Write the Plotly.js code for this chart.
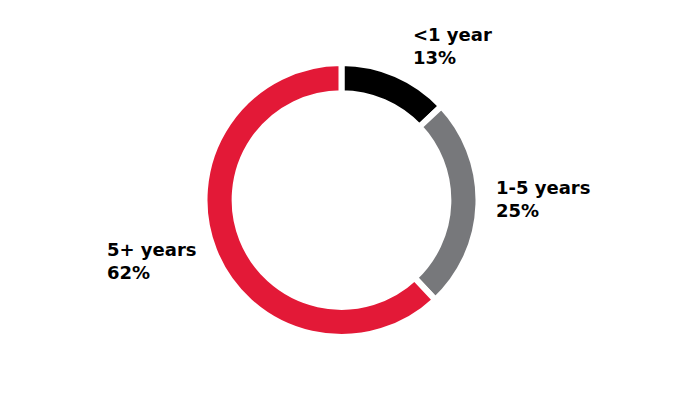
<!DOCTYPE html>
<html>
<head>
<meta charset="utf-8">
<script src="https://cdn.plot.ly/plotly-3.0.1.min.js"></script>
<style>html,body{margin:0;padding:0;background:#fff;}#chart{width:684px;height:400px;}</style>
</head>
<body>
<div id="chart"></div>
<script>
const categories = ["<1 year", "1-5 years", "5+ years"];
const shares = [13, 25, 62];
const colors = ["#000000", "#77787b", "#e31937"];

// label anchor positions (pixels) for annotations
const labelPos = [[411, 22], [494, 175], [105, 237]];
const W = 684, H = 400;

const total = shares.reduce((a, b) => a + b, 0);
const annotations = categories.map((c, i) => ({
  xref: "paper", yref: "paper",
  x: labelPos[i][0] / W, y: 1 - labelPos[i][1] / H,
  xanchor: "left", yanchor: "top", align: "left",
  showarrow: false,
  text: "<b>" + c.replace("<", "&lt;") + "<br>" + Math.round(shares[i] / total * 100) + "%</b>",
  font: {family: "DejaVu Sans", size: 18, color: "#000"}
}));

const data = [{
  type: "pie",
  labels: categories,
  values: shares,
  sort: false,
  direction: "clockwise",
  rotation: 0,
  hole: 0.78,
  marker: {colors: colors, line: {color: "#ffffff", width: 6}},
  textinfo: "none",
  hoverinfo: "label+percent",
  domain: {x: [204.5 / W, 478.5 / W], y: [1 - 337 / H, 1 - 63 / H]}
}];

const layout = {
  width: W, height: H,
  margin: {l: 0, r: 0, t: 0, b: 0},
  showlegend: false,
  paper_bgcolor: "#fff",
  annotations: annotations
};

Plotly.newPlot("chart", data, layout, {displayModeBar: false, staticPlot: true});
</script>
</body>
</html>
